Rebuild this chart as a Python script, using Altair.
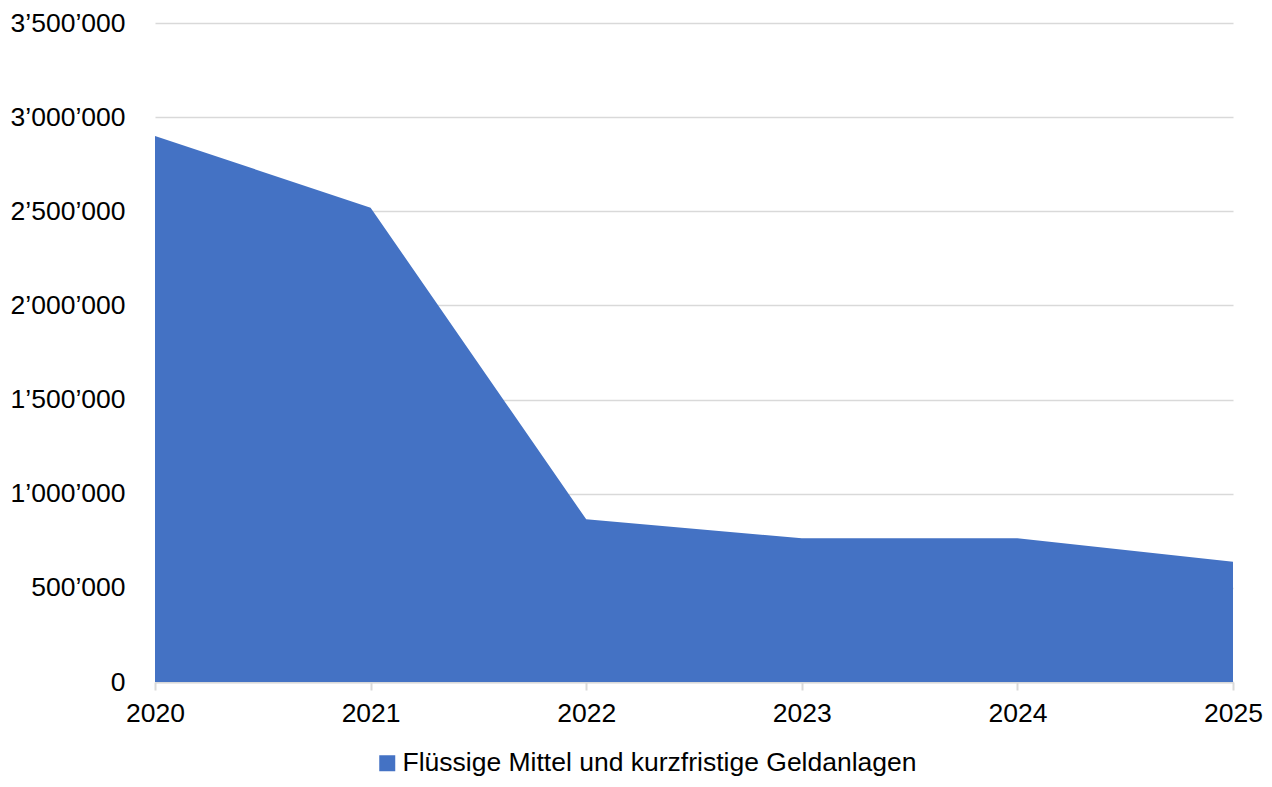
import altair as alt
import pandas as pd

years = ["2020", "2021", "2022", "2023", "2024", "2025"]
values = [2900000, 2519000, 864000, 763000, 763000, 639000]
series = ["Flüssige Mittel und kurzfristige Geldanlagen"] * len(years)

df = pd.DataFrame({"Jahr": years, "Wert": values, "Serie": series})

FONT = "Liberation Sans"
FS = 26.5

chart = alt.Chart(df).mark_area(opacity=1).encode(
    x=alt.X("Jahr:O", scale=alt.Scale(padding=0),
            axis=alt.Axis(title=None, labelAngle=0, grid=False, domain=True,
                          domainColor="#d9d9d9", domainWidth=2, ticks=True,
                          tickColor="#d9d9d9", tickSize=8, tickWidth=2,
                          labelPadding=10, labelFontSize=FS, labelColor="#000000",
                          labelFont=FONT)),
    y=alt.Y("Wert:Q", scale=alt.Scale(domain=[0, 3500000], nice=False),
            axis=alt.Axis(title=None, values=[0, 500000, 1000000, 1500000, 2000000, 2500000, 3000000, 3500000],
                          format=",d", domain=False, ticks=False, grid=True,
                          gridColor="#d9d9d9", gridWidth=1.5, labelPadding=30,
                          labelFontSize=FS, labelColor="#000000", labelFont=FONT)),
    color=alt.Color("Serie:N", scale=alt.Scale(range=["#4472C4"]),
                    legend=alt.Legend(title=None, orient="none", legendX=219, legendY=727,
                                      symbolType="square", symbolSize=256, symbolOpacity=1,
                                      labelOffset=2,
                                      labelFontSize=FS, labelFont=FONT, labelColor="#000000",
                                      labelLimit=1000)),
).properties(
    width=1078, height=659,
    autosize=alt.AutoSizeParams(type="none"),
    padding={"left": 147, "top": 15, "right": 30, "bottom": 96},
).configure(
    locale=alt.Locale(number=alt.NumberLocale(decimal=".", thousands="’", grouping=[3], currency=["", ""]))
).configure_view(stroke=None)

chart.save("out.html", embed_options={"renderer": "svg", "actions": False})
